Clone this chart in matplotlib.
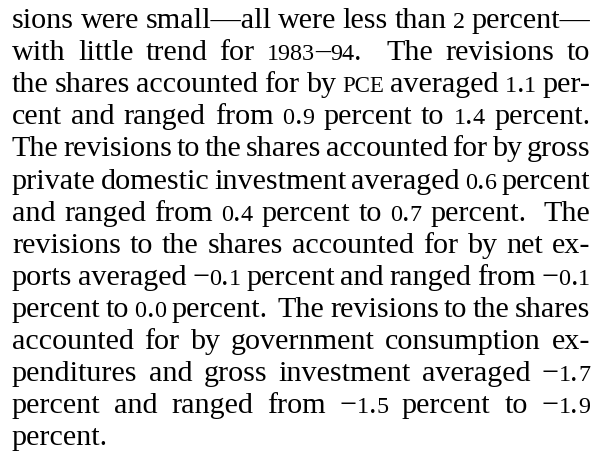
import re
import matplotlib
matplotlib.use('Agg')
import matplotlib.pyplot as plt

# ---- text content (one entry per printed line) ----
LINES = [
    "sions were small—all were less than 2 percent—",
    "with little trend for 1983–94.  The revisions to",
    "the shares accounted for by {PCE} averaged 1.1 per-",
    "cent and ranged from 0.9 percent to 1.4 percent.",
    "The revisions to the shares accounted for by gross",
    "private domestic investment averaged 0.6 percent",
    "and ranged from 0.4 percent to 0.7 percent.  The",
    "revisions to the shares accounted for by net ex-",
    "ports averaged −0.1 percent and ranged from −0.1",
    "percent to 0.0 percent.  The revisions to the shares",
    "accounted for by government consumption ex-",
    "penditures and gross investment averaged −1.7",
    "percent and ranged from −1.5 percent to −1.9",
    "percent.",
]

# ---- layout / style ----
W, H, DPI = 597, 461, 100
LEFT, RIGHT = 12, 590
BASE0, LEAD = 28, 32.1
FONT = 'Liberation Serif'
TARGET_PX = 32.5
DIGIT_SCALE = 0.80
SC_SCALE = 0.76
MIN_SPACE = 0.15
NORMAL_SPACE = 0.25

fig = plt.figure(figsize=(W / DPI, H / DPI), dpi=DPI)
fig.patch.set_facecolor('white')
renderer = fig.canvas.get_renderer()


def runs_of(word):
    """Split a word into (text, scale) runs."""
    out = []
    for part in re.split(r'(\{[^}]*\})', word):
        if not part:
            continue
        if part.startswith('{'):
            out.append((part[1:-1], SC_SCALE))
            continue
        for m in re.finditer(r'[0-9]+|[^0-9]+', part):
            s = m.group(0)
            out.append((s, DIGIT_SCALE if s[0].isdigit() else 1.0))
    return out


def text_width(s, px):
    t = fig.text(0, 0, s, fontsize=px * 72 / DPI, family=FONT)
    w = t.get_window_extent(renderer).width
    t.remove()
    return w


def parse(line):
    parts = re.split(r'( +)', line)
    words = parts[0::2]
    gaps = [len(g) for g in parts[1::2]]
    return words, gaps


REF = 40.0
avail = RIGHT - LEFT
parsed = [parse(l) for l in LINES]
cache = {}


def word_width(word, px):
    total = 0.0
    for s, sc in runs_of(word):
        key = (s, sc)
        if key not in cache:
            cache[key] = text_width(s, REF * sc)
        total += cache[key] * px / REF
    return total

# choose font size so that every justified line fits
px = TARGET_PX
for words, gaps in parsed[:-1]:
    nat = sum(word_width(w, REF) for w in words) / REF
    g = sum(gaps)
    px = min(px, avail / (nat + MIN_SPACE * g))

for i, (words, gaps) in enumerate(parsed):
    base = BASE0 + i * LEAD
    widths = [word_width(w, px) for w in words]
    if i < len(parsed) - 1 and gaps:
        unit = (avail - sum(widths)) / sum(gaps)
    else:
        unit = NORMAL_SPACE * px
    x = LEFT
    for j, w in enumerate(words):
        xx = x
        for s, sc in runs_of(w):
            fig.text(xx / W, 1 - base / H, s, fontsize=px * sc * 72 / DPI,
                     family=FONT, color='black', ha='left', va='baseline')
            xx += cache[(s, sc)] * px / REF
        x += widths[j]
        if j < len(gaps):
            x += unit * gaps[j]

fig.savefig('out.png', dpi=DPI, facecolor='white')
